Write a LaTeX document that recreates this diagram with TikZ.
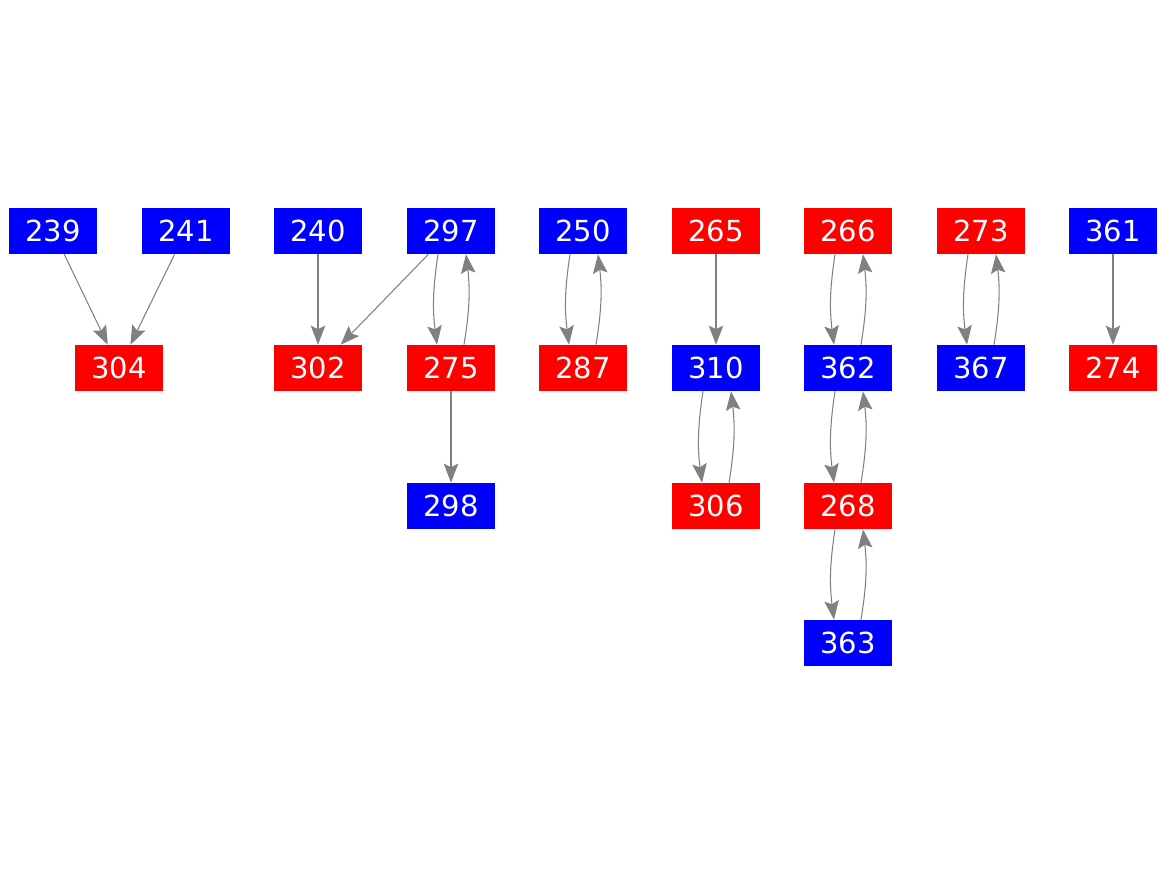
\documentclass[tikz,border=0pt]{standalone}
\usepackage{fontspec}
\setmainfont{DejaVu Sans}
\usetikzlibrary{arrows.meta}

\begin{document}
\begin{tikzpicture}[x=0.02cm, y=-0.02cm,
  bluebox/.style={fill={rgb,255:red,0;green,0;blue,255}, text=white, minimum width=1.76cm, minimum height=0.92cm, inner sep=0pt, font=\fontsize{16.5}{19}\selectfont},
  redbox/.style={bluebox, fill={rgb,255:red,255;green,0;blue,0}},
  edge/.style={draw={rgb,255:red,128;green,128;blue,128}, line width=0.6pt, -{Stealth[length=3.8mm, width=2.9mm, inset=0.7mm]}}]
\useasboundingbox (0,0) rectangle (1167,875);

% row 1
\node[bluebox] (n239) at (53,231) {239};
\node[bluebox] (n241) at (186,231) {241};
\node[bluebox] (n240) at (318,231) {240};
\node[bluebox] (n297) at (451,231) {297};
\node[bluebox] (n250) at (583,231) {250};
\node[redbox] (n265) at (716,231) {265};
\node[redbox] (n266) at (848,231) {266};
\node[redbox] (n273) at (981,231) {273};
\node[bluebox] (n361) at (1113,231) {361};
% row 2
\node[redbox] (n304) at (119,368) {304};
\node[redbox] (n302) at (318,368) {302};
\node[redbox] (n275) at (451,368) {275};
\node[redbox] (n287) at (583,368) {287};
\node[bluebox] (n310) at (716,368) {310};
\node[bluebox] (n362) at (848,368) {362};
\node[bluebox] (n367) at (981,368) {367};
\node[redbox] (n274) at (1113,368) {274};
% row 3
\node[bluebox] (n298) at (451,506) {298};
\node[redbox] (n306) at (716,506) {306};
\node[redbox] (n268) at (848,506) {268};
% row 4
\node[bluebox] (n363) at (848,643) {363};

\draw[edge] (n239) -- (n304);
\draw[edge] (n241) -- (n304);
\draw[edge] (n240) -- (n302);
\draw[edge] (n297) -- (n302);
\draw[edge] (n275) -- (n298);
\draw[edge] (n265) -- (n310);
\draw[edge] (n361) -- (n274);

% two-way pairs
\foreach \a/\b in {n297/n275, n250/n287, n310/n306, n266/n362, n362/n268, n268/n363, n273/n367} {
  \draw[edge] ([xshift=-13*0.02cm]\a.south) to[bend right=8] ([xshift=-14*0.02cm]\b.north);
  \draw[edge] ([xshift=13*0.02cm]\b.north) to[bend right=8] ([xshift=15*0.02cm]\a.south);
}
\end{tikzpicture}
\end{document}
